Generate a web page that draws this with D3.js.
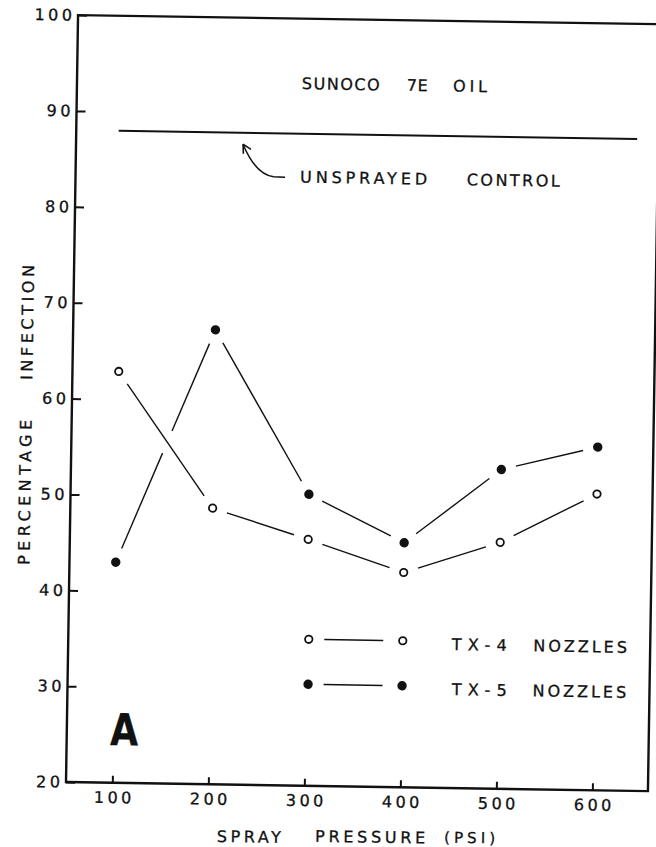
<!DOCTYPE html>
<html lang="en">
<head>
<meta charset="utf-8">
<title>Spray pressure vs percentage infection</title>
<script src="https://cdn.jsdelivr.net/npm/d3@7"></script>
<style>
body { margin: 0; background: #fff; }
svg text { font-family: "DejaVu Sans", sans-serif; fill: #111; stroke: #111; stroke-width: 0.3; }
.tick line { stroke: #111; stroke-width: 2; }
.tick text { font-size: 16px; letter-spacing: 3.5px; }
</style>
</head>
<body>
<script>
// values
var pressures = [100, 200, 300, 400, 500, 600];
var tx4 = [62.9, 48.8, 45.7, 42.4, 45.7, 50.9];
var tx5 = [43.0, 67.4, 50.4, 45.5, 53.3, 55.8];
var controlValue = 88.0;
var controlFrom = [96, 636];
var xTicks = [100, 200, 300, 400, 500, 600];
var yTicks = [20, 30, 40, 50, 60, 70, 80, 90, 100];

var w = 656, h = 847;
var pLeft = 66, pRight = 648, pTop = 15, pBottom = 782;

var x = d3.scaleLinear().domain([100, 600]).range([112.3, 592.4]);
var y = d3.scaleLinear().domain([20, 100]).range([pBottom, pTop]);

var svg = d3.select('body').append('svg')
    .attr('width', w)
    .attr('height', h);

svg.append('rect').attr('width', w).attr('height', h).attr('fill', '#fff');

// the scan is tilted a little clockwise
var g = svg.append('g').attr('transform', 'rotate(0.9,' + pLeft + ',' + pBottom + ')');

// frame
g.append('path')
    .attr('d', 'M' + pLeft + ',' + pTop + 'L' + pLeft + ',' + pBottom + 'L' + pRight + ',' + pBottom + 'L' + pRight + ',' + pTop + 'Z')
    .attr('fill', 'none')
    .attr('stroke', '#111')
    .attr('stroke-width', 2.4);

//axes
var yAxis = g.append('g')
    .attr('transform', 'translate(' + pLeft + ',0)')
    .call(d3.axisLeft(y).tickValues(yTicks).tickSize(-9).tickPadding(2.5));
yAxis.select('.domain').remove();

var xAxis = g.append('g')
    .attr('transform', 'translate(0,' + pBottom + ')')
    .call(d3.axisBottom(x).tickValues(xTicks).tickSize(-7).tickPadding(9));
xAxis.select('.domain').remove();
xAxis.selectAll('text').attr('dx', 1.75);

// control line
g.append('line')
    .attr('x1', x(controlFrom[0]))
    .attr('x2', x(controlFrom[1]))
    .attr('y1', y(controlValue))
    .attr('y2', y(controlValue))
    .attr('stroke', '#111')
    .attr('stroke-width', 2);

// series lines, broken short of each marker and where they cross
var gap = 15, crossGap = 12;

function intersect(a, b, c, d) {
    var r = [b[0] - a[0], b[1] - a[1]], s = [d[0] - c[0], d[1] - c[1]];
    var den = r[0] * s[1] - r[1] * s[0];
    if (!den) return null;
    var t = ((c[0] - a[0]) * s[1] - (c[1] - a[1]) * s[0]) / den;
    var u = ((c[0] - a[0]) * r[1] - (c[1] - a[1]) * r[0]) / den;
    if (t > 0 && t < 1 && u > 0 && u < 1) return t;
    return null;
}

function lerp(a, b, t) {
    return [a[0] + (b[0] - a[0]) * t, a[1] + (b[1] - a[1]) * t];
}

function pieces(pts, others) {
    var out = [];
    for (var i = 0; i < pts.length - 1; i++) {
        var a = pts[i], b = pts[i + 1];
        var L = Math.hypot(b[0] - a[0], b[1] - a[1]);
        var spans = [[gap, L - gap]];
        if (others) {
            for (var j = 0; j < others.length - 1; j++) {
                var t = intersect(a, b, others[j], others[j + 1]);
                if (t === null) continue;
                var c = t * L;
                spans = spans.flatMap(function(sp) {
                    return (c > sp[0] && c < sp[1]) ? [[sp[0], c - crossGap], [c + crossGap, sp[1]]] : [sp];
                });
            }
        }
        spans.forEach(function(sp) {
            if (sp[1] > sp[0]) out.push([lerp(a, b, sp[0] / L), lerp(a, b, sp[1] / L)]);
        });
    }
    return out;
}

var pts4 = pressures.map(function(p, i) { return [x(p), y(tx4[i])]; });
var pts5 = pressures.map(function(p, i) { return [x(p), y(tx5[i])]; });

var line = d3.line();

g.selectAll('path.s4')
    .data(pieces(pts4, null))
    .enter().append('path')
    .attr('class', 's4')
    .attr('d', line)
    .attr('stroke', '#111')
    .attr('stroke-width', 1.4)
    .attr('fill', 'none');

g.selectAll('path.s5')
    .data(pieces(pts5, pts4))
    .enter().append('path')
    .attr('class', 's5')
    .attr('d', line)
    .attr('stroke', '#111')
    .attr('stroke-width', 1.4)
    .attr('fill', 'none');

// markers
g.selectAll('circle.m4')
    .data(pts4)
    .enter().append('circle')
    .attr('class', 'm4')
    .attr('cx', function(d) { return d[0]; })
    .attr('cy', function(d) { return d[1]; })
    .attr('r', 3.7)
    .attr('fill', '#fff')
    .attr('stroke', '#111')
    .attr('stroke-width', 1.8);

g.selectAll('circle.m5')
    .data(pts5)
    .enter().append('circle')
    .attr('class', 'm5')
    .attr('cx', function(d) { return d[0]; })
    .attr('cy', function(d) { return d[1]; })
    .attr('r', 4.7)
    .attr('fill', '#111');

// free text, fitted to the widths in the figure
function label(txt, tx, ty, len, size) {
    return g.append('text')
        .attr('x', tx)
        .attr('y', ty)
        .attr('font-size', size || 16)
        .attr('textLength', len)
        .attr('lengthAdjust', 'spacing')
        .text(txt);
}

label('SUNOCO', 290.8, 85.5, 78);
label('7E', 395.8, 85.5, 21);
label('OIL', 442.1, 85.5, 34);
label('UNSPRAYED', 290.6, 179, 127);
label('CONTROL', 457.3, 179, 93);

// arrow to the control line
g.append('path')
    .attr('d', 'M275.5,174L264,173.5C252,172 241,160 233,141.5')
    .attr('fill', 'none')
    .attr('stroke', '#111')
    .attr('stroke-width', 1.5);
g.append('path')
    .attr('d', 'M233,141.5L233.5,151M233,141.5L241,146.5')
    .attr('fill', 'none')
    .attr('stroke', '#111')
    .attr('stroke-width', 1.6);

// legend
function legendRow(ly, filled, name, tx, ty) {
    [306.5, 400.5].forEach(function(cx) {
        var c = g.append('circle').attr('cx', cx).attr('cy', ly);
        if (filled) c.attr('r', 4.7).attr('fill', '#111');
        else c.attr('r', 3.7).attr('fill', '#fff').attr('stroke', '#111').attr('stroke-width', 1.8);
    });
    g.append('line')
        .attr('x1', 322).attr('x2', 381)
        .attr('y1', ly).attr('y2', ly)
        .attr('stroke', '#111').attr('stroke-width', 1.4);
    label(name, tx, ty, 55);
    label('NOZZLES', 531.2, ty, 93.5);
}
legendRow(635.5, false, 'TX-4', 449.6, 644);
legendRow(680.5, true, 'TX-5', 450.3, 689);

// axis titles
label('SPRAY', 217.7, 839.5, 64);
label('PRESSURE', 316, 837.8, 110);
label('(PSI)', 445, 836.6, 51, 15);

g.append('text')
    .attr('transform', 'translate(26,565.6) rotate(-90)')
    .attr('font-size', 16)
    .attr('textLength', 145)
    .attr('lengthAdjust', 'spacing')
    .text('PERCENTAGE');
g.append('text')
    .attr('transform', 'translate(26,380.6) rotate(-90)')
    .attr('font-size', 16)
    .attr('textLength', 115)
    .attr('lengthAdjust', 'spacing')
    .text('INFECTION');

// panel letter
g.append('text')
    .attr('x', 109.4)
    .attr('y', 744.3)
    .attr('font-family', '"Liberation Sans", Arial, sans-serif')
    .attr('font-weight', 'bold')
    .attr('font-size', 44)
    .attr('textLength', 28)
    .attr('lengthAdjust', 'spacingAndGlyphs')
    .text('A');
</script>
</body>
</html>
